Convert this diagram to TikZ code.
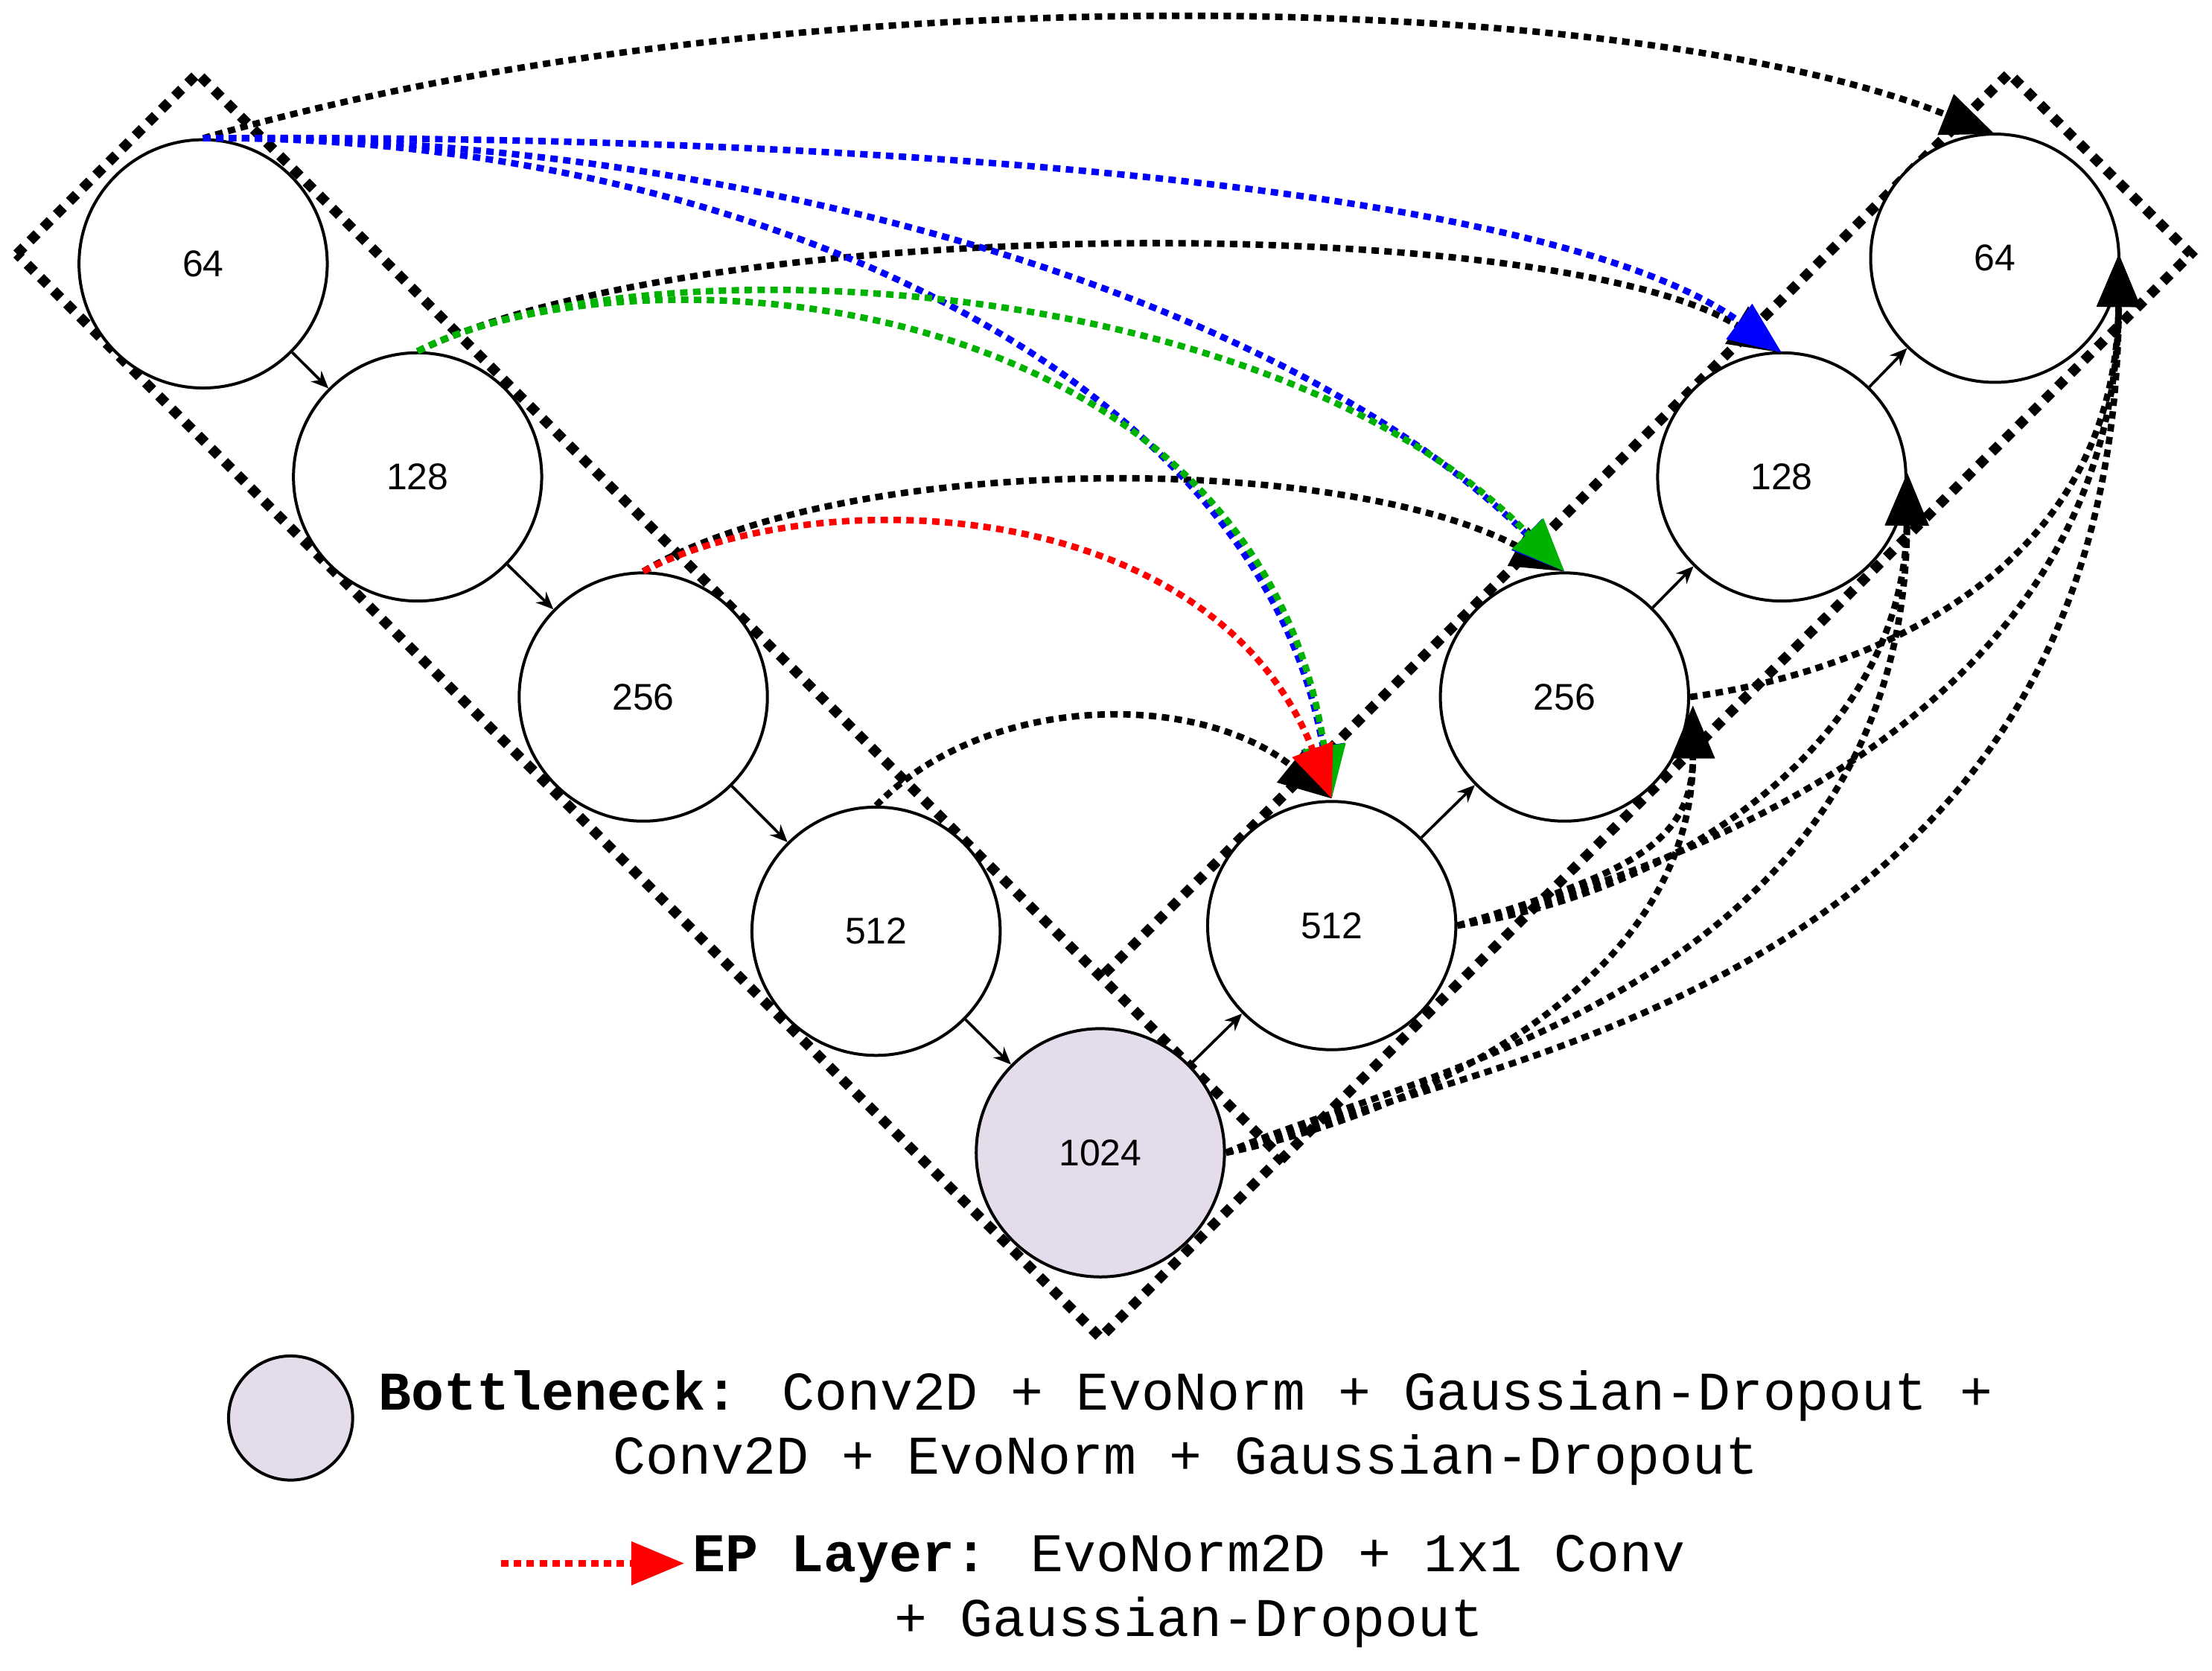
\documentclass[tikz,border=0pt]{standalone}
\usepackage{fontspec}
\setmainfont{Liberation Sans}
\newfontfamily\monof{Liberation Mono}
\usetikzlibrary{arrows.meta}
\begin{document}
\begin{tikzpicture}[x=0.02cm,y=-0.02cm,
  cir/.style={circle,draw,line width=1.2pt,minimum size=3.52cm,inner sep=0pt,font=\fontsize{15}{18}\selectfont,fill=white},
  sm/.style={-{Stealth[length=7pt,width=6pt]},line width=1.1pt},
  dd/.style={line width=2.6pt,dash pattern=on 3pt off 2.2pt,-{Triangle[length=0.75cm,width=0.6cm]}},
  box/.style={line width=4pt,dash pattern=on 4pt off 3.5pt}]
\useasboundingbox (0,0) rectangle (1568,1184);
\draw[box] (12,180) -- (140,52) -- (908,820) -- (780,948) -- cycle;
\draw[box] (783,690) -- (1424,52) -- (1553,180) -- (908,822);
\node[cir] (a) at (144,187) {64};
\node[cir] (b) at (296,338) {128};
\node[cir] (c) at (456,494) {256};
\node[cir] (d) at (621,660) {512};
\node[cir,fill={rgb,255:red,228;green,220;blue,235}] (e) at (780,817) {1024};
\node[cir] (f) at (944,656) {512};
\node[cir] (g) at (1109,494) {256};
\node[cir] (h) at (1263,338) {128};
\node[cir] (i) at (1414,183) {64};
\foreach \u/\v in {a/b,b/c,c/d,d/e,e/f,f/g,g/h,h/i} \draw[sm] (\u) -- (\v);
% skip connections
\draw[dd] (a.north) .. controls (550,-20) and (1150,-10) .. (1414,95);
\draw[dd] (b.north) .. controls (500,150) and (1100,150) .. (1263,250);
\draw[dd] (c.north) .. controls (600,320) and (950,320) .. (1109,405);
\draw[dd] (d.north) .. controls (700,490) and (850,490) .. (944,566);
\draw[dd,blue] (a.north) .. controls (600,95) and (1100,130) .. (1263,250);
\draw[dd,blue] (a.north) .. controls (500,95) and (900,200) .. (1109,405);
\draw[dd,blue] (a.north) .. controls (500,95) and (890,250) .. (944,566);
\draw[dd,green!70!black] (b.north) .. controls (450,170) and (900,190) .. (1109,405);
\draw[dd,green!70!black] (b.north) .. controls (450,170) and (890,200) .. (944,566);
\draw[dd,red] (c.north) .. controls (580,340) and (860,350) .. (944,566);
% right side
\draw[dd] (f.east) .. controls (1150,620) and (1200,600) .. (1200,500);
\draw[dd] (f.east) .. controls (1200,630) and (1350,520) .. (1352,335);
\draw[dd] (f.east) .. controls (1250,600) and (1500,480) .. (1502,180);
\draw[dd] (g.east) .. controls (1300,480) and (1500,420) .. (1502,180);
\draw[dd] (e.east) .. controls (1000,790) and (1200,700) .. (1200,500);
\draw[dd] (e.east) .. controls (1000,760) and (1350,700) .. (1352,335);
\draw[dd] (e.east) .. controls (1050,750) and (1500,700) .. (1502,180);
% legend
\node[circle,draw,line width=1.2pt,minimum size=1.76cm,fill={rgb,255:red,228;green,220;blue,235}] (lg) at (206,1005) {};
\node[anchor=west,align=center,font=\monof\fontsize{22}{26}\selectfont] (lt) at (262,1012) {\textbf{Bottleneck:} Conv2D + EvoNorm + Gaussian-Dropout +\\Conv2D + EvoNorm + Gaussian-Dropout};
\coordinate (la) at (355,1108);
\node[anchor=west,align=center,font=\monof\fontsize{22}{26}\selectfont] (lt2) at (485,1128) {\textbf{EP Layer:} EvoNorm2D + 1x1 Conv\\+ Gaussian-Dropout};
\draw[dd,red] (la) -- (lt2.west |- la);
\end{tikzpicture}
\end{document}
